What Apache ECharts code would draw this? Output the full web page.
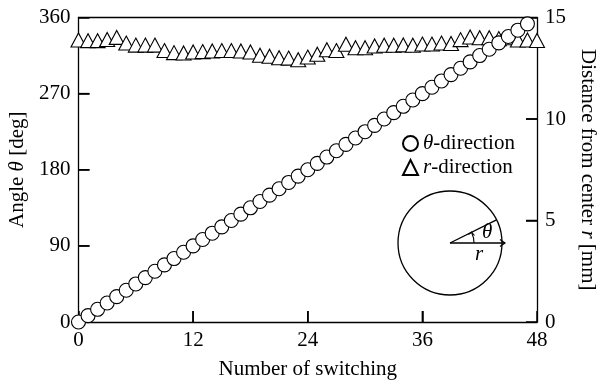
<!DOCTYPE html>
<html>
<head>
<meta charset="utf-8">
<script src="https://cdn.jsdelivr.net/npm/echarts@6/dist/echarts.min.js"></script>
<style>
html,body{margin:0;padding:0;background:#fff;}
#chart{width:600px;height:383px;}
</style>
</head>
<body>
<div id="chart"></div>
<script>
// Number of switching (x values)
const switchTheta = [0,1,2,3,4,5,6,7,8,9,10,11,12,13,14,15,16,17,18,19,20,21,22,23,24,25,26,27,28,29,30,31,32,33,34,35,36,37,38,39,40,41,42,43,44,45,46,47];
const switchR = [0,1,2,3,4,5,6,7,8,9,10,11,12,13,14,15,16,17,18,19,20,21,22,23,24,25,26,27,28,29,30,31,32,33,34,35,36,37,38,39,40,41,42,43,44,45,46,47,48];
// Angle theta [deg] (circles, left axis)
const thetaDeg = [0,7.5,15,22.5,30,37.5,45,52.5,60,67.5,75,82.5,90,97.5,105,112.5,120,127.5,135,142.5,150,157.5,165,172.5,180,187.5,195,202.5,210,217.5,225,232.5,240,247.5,255,262.5,270,277.5,285,292.5,300,307.5,315,322.5,330,337.5,345,352.5];
// Distance from center r [mm] (triangles, right axis)
const rDist = [13.89,13.86,13.86,13.92,14.02,13.74,13.64,13.64,13.64,13.37,13.27,13.25,13.30,13.32,13.35,13.37,13.37,13.35,13.30,13.14,13.09,13.02,13.00,12.92,13.05,13.19,13.41,13.37,13.68,13.51,13.51,13.60,13.63,13.63,13.65,13.63,13.69,13.69,13.74,13.72,13.91,14.04,14.00,14.00,13.96,14.00,13.89,13.89,13.87];
// Tick labels
const xTickVals = [0,12,24,36,48];
const yLeftTickVals = [0,90,180,270,360];
const yRightTickVals = [0,5,10,15];

const FONT = 'Liberation Serif';
const FS = 21;
const TL = 11;
const chart = echarts.init(document.getElementById('chart'));
const rich = {it:{fontFamily:FONT, fontSize:FS, fontStyle:'italic', color:'#000'}};
function axisBase(){
  return {
    axisLine:{show:true, onZero:false, lineStyle:{color:'#000', width:1.3}},
    axisTick:{show:true, inside:true, length:TL, lineStyle:{color:'#000', width:1.5}},
    axisLabel:{color:'#000', fontFamily:FONT, fontSize:FS},
    splitLine:{show:false},
    nameTextStyle:{color:'#000', fontFamily:FONT, fontSize:FS, rich:rich}
  };
}
const inset = [
  {type:'circle', shape:{cx:450, cy:243, r:52}, style:{fill:'none', stroke:'#000', lineWidth:1.3}, z:10},
  {type:'line', shape:{x1:450, y1:243, x2:496.5, y2:219.8}, style:{stroke:'#000', lineWidth:1.3}, z:10},
  {type:'line', shape:{x1:450, y1:243, x2:505, y2:243}, style:{stroke:'#000', lineWidth:1.3}, z:10},
  {type:'polyline', shape:{points:[[500,239.5],[505,243],[500,246.5]]}, style:{stroke:'#000', fill:'none', lineWidth:1.2}, z:10},
  {type:'arc', shape:{cx:450, cy:243, r:24, startAngle:0, endAngle:-0.44, clockwise:false}, style:{stroke:'#000', fill:'none', lineWidth:1.1}, z:10},
  {type:'polyline', shape:{points:[[468.5,234.5],[471.5,232],[474.5,235.5]]}, style:{stroke:'#000', fill:'none', lineWidth:1.1}, z:10},
  {type:'text', x:482, y:222, style:{text:'θ', font:'italic 21px "Liberation Serif"', fill:'#000'}, z:10},
  {type:'text', x:475, y:244, style:{text:'r', font:'italic 21px "Liberation Serif"', fill:'#000'}, z:10}
];
// tick marks drawn through the axes' own coordinate conversion (custom series)
function tickSeries(yIdx, pts, dx, dy){
  return {
    type:'custom', xAxisIndex:0, yAxisIndex:yIdx, silent:true, clip:false, z:10,
    legendHoverLink:false, tooltip:{show:false},
    data:pts,
    renderItem:function(params, api){
      const p = api.coord([api.value(0), api.value(1)]);
      return {type:'line', shape:{x1:p[0], y1:p[1], x2:p[0]+dx, y2:p[1]+dy},
              style:{stroke:'#000', lineWidth:1.5}};
    }
  };
}
const xMin = xTickVals[0], xMax = xTickVals[xTickVals.length-1];
const option = {
  backgroundColor:'#fff',
  animation:false,
  grid:{left:78.5, right:63, top:17.5, bottom:61, containLabel:false, outerBoundsMode:'none'},
  legend:{
    orient:'vertical', left:397, top:128, itemWidth:15, itemHeight:15, itemGap:3,
    textStyle:{color:'#000', fontFamily:FONT, fontSize:FS, rich:rich},
    data:['theta','r'],
    formatter:function(n){ return n==='theta' ? '{it|θ}-direction' : '{it|r}-direction'; }
  },
  xAxis:[
    Object.assign(axisBase(), {
      type:'value', position:'bottom', min:xMin, max:xMax, interval:12,
      name:'Number of switching', nameLocation:'middle', nameGap:37
    }),
    {type:'value', position:'top', min:xMin, max:xMax, interval:12,
     axisLine:{show:true, onZero:false, lineStyle:{color:'#000', width:1.3}},
     axisTick:{show:false}, axisLabel:{show:false}, splitLine:{show:false}}
  ],
  yAxis:[
    Object.assign(axisBase(), {
      type:'value', position:'left', min:0, max:360, interval:90,
      name:'Angle {it|θ} [deg]', nameLocation:'middle', nameRotate:90, nameGap:40
    }),
    Object.assign(axisBase(), {
      type:'value', position:'right', min:0, max:15, interval:5,
      name:'Distance from center {it|r} [mm]', nameLocation:'middle', nameRotate:-90, nameGap:39
    })
  ],
  series:[
    {
      name:'r', type:'scatter', xAxisIndex:0, yAxisIndex:1, symbol:'triangle', symbolSize:[15,14],
      itemStyle:{color:'#fff', borderColor:'#000', borderWidth:1.1, opacity:1},
      data:switchR.map((x,i)=>[x, rDist[i]]), z:2
    },
    {
      name:'theta', type:'scatter', xAxisIndex:0, yAxisIndex:0, symbol:'circle', symbolSize:14,
      itemStyle:{color:'#fff', borderColor:'#000', borderWidth:1.1, opacity:1},
      data:switchTheta.map((x,i)=>[x, thetaDeg[i]]), z:3
    },
    tickSeries(0, xTickVals.slice(1,-1).map(v=>[v, yLeftTickVals[0]]), 0, -TL),
    tickSeries(0, yLeftTickVals.slice(1,-1).map(v=>[xMin, v]), TL, 0),
    tickSeries(1, yRightTickVals.slice(1,-1).map(v=>[xMax, v]), -TL, 0)
  ],
  graphic:inset
};
chart.setOption(option);
</script>
</body>
</html>
